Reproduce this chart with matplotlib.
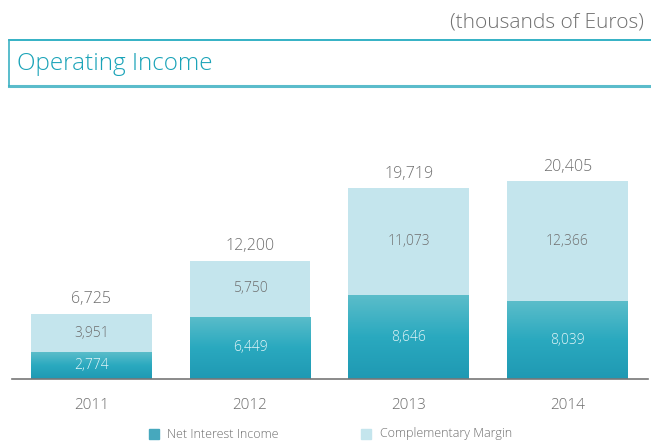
import matplotlib.pyplot as plt
import numpy as np
from matplotlib.colors import LinearSegmentedColormap
from matplotlib.patches import Rectangle
from matplotlib.lines import Line2D

plt.rcParams['font.family'] = ['Open Sans', 'DejaVu Sans']
plt.rcParams['font.weight'] = 'light'

years = ['2011', '2012', '2013', '2014']
net_interest = [2774, 6449, 8646, 8039]
complementary = [3951, 5750, 11073, 12366]
totals = [6725, 12200, 19719, 20405]

light = '#c4e5ed'
grad = LinearSegmentedColormap.from_list('g', ['#1f99b3', '#2aa9bf', '#5bbdca'])
gray = '#6e6e6e'

fig = plt.figure(figsize=(6.51, 4.41), dpi=100)
ax = fig.add_axes([12 / 651, 62 / 441, 636 / 651, 215 / 441])

x = np.arange(len(years))
w = 0.76
b1 = ax.bar(x, net_interest, w, color='none', edgecolor='none')
b2 = ax.bar(x, complementary, w, bottom=net_interest, color=light, edgecolor='none')

# vertical gradient in the bottom bars
g = np.linspace(0, 1, 256).reshape(-1, 1)
for bar in b1:
    x0, y0 = bar.get_x(), bar.get_y()
    im = ax.imshow(g, cmap=grad, origin='lower', aspect='auto',
                   extent=(x0, x0 + bar.get_width(), y0, y0 + bar.get_height()),
                   zorder=2)
    im.set_clip_path(bar)

ax.set_xlim(-0.5, 3.508)
ax.set_ylim(0, 22200)

for i in range(len(years)):
    ax.text(x[i], net_interest[i] / 2, f'{net_interest[i]:,}', ha='center', va='center',
            color='#e3f5f8', fontsize=10, zorder=3)
    ax.text(x[i], net_interest[i] + complementary[i] / 2, f'{complementary[i]:,}',
            ha='center', va='center', color=gray, fontsize=10)
    ax.text(x[i], totals[i] + 1500, f'{totals[i]:,}', ha='center', va='center',
            color=gray, fontsize=11.5)

for s in ['top', 'right', 'left']:
    ax.spines[s].set_visible(False)
ax.spines['bottom'].set_color('#777777')
ax.spines['bottom'].set_linewidth(1.2)
ax.set_yticks([])
ax.set_xticks(x)
ax.set_xticklabels(years, color=gray, fontsize=11)
ax.tick_params(axis='x', length=0, pad=14)

# header
fig.text(644 / 651, 1 - 22 / 441, '(thousands of Euros)', ha='right', va='center',
         color='#707070', fontsize=15)
fig.add_artist(Line2D([9 / 651, 1], [1 - 40 / 441] * 2, color='#12a4bb', lw=1.2))
fig.add_artist(Line2D([9 / 651, 1], [1 - 86 / 441] * 2, color='#5bbccb', lw=2.2))
fig.add_artist(Line2D([9 / 651] * 2, [1 - 40 / 441, 1 - 86 / 441], color='#3db2c4', lw=1.2))
fig.text(17 / 651, 1 - 64 / 441, 'Operating Income', ha='left', va='center',
         color='#1aa3b8', fontsize=17.5)

# legend
fig.add_artist(Rectangle((149 / 651, 1 - 439 / 441), 10 / 651, 10 / 441,
                         color='#46a8bd', transform=fig.transFigure))
fig.text(167 / 651, 1 - 434 / 441, 'Net Interest Income', ha='left', va='center',
         color=gray, fontsize=9)
fig.add_artist(Rectangle((361 / 651, 1 - 439 / 441), 10 / 651, 10 / 441,
                         color=light, transform=fig.transFigure))
fig.text(380 / 651, 1 - 434 / 441, 'Complementary Margin', ha='left', va='center',
         color=gray, fontsize=9)

fig.savefig('out.png', dpi=100)
